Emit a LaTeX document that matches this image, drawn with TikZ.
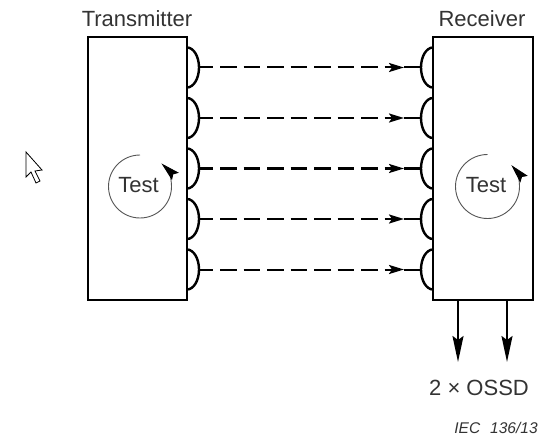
\documentclass[tikz,border=0pt]{standalone}
\usepackage{fontspec}
\setmainfont{Liberation Sans}
\usetikzlibrary{arrows.meta}
\definecolor{txtgray}{HTML}{333333}
\definecolor{circgray}{HTML}{555555}
\tikzset{
  box/.style={draw=black, line width=2pt, fill=white, inner sep=0pt, outer sep=0pt},
  lens/.style={draw=black, line width=2.4pt},
  beam/.style={draw=black, line width=2pt, dash pattern=on 16.5pt off 7pt, dash phase=2.5pt},
  beamtip/.style={draw=black, line width=2pt, -{Stealth[length=15pt,width=9pt,inset=3pt]}},
  beamend/.style={draw=black, line width=2pt},
  label/.style={text=txtgray, font=\fontsize{22}{24}\selectfont, inner sep=0pt, anchor=base},
  testarc/.style={draw=circgray, line width=0.9pt, -{Stealth[length=19pt,width=10pt,inset=3pt,black]}},
  ossd/.style={draw=black, line width=2pt, -{Stealth[length=26pt,width=11pt,inset=4pt]}},
  iec/.style={text=txtgray, font=\fontsize{15.5}{18}\selectfont\itshape, inner sep=0pt, anchor=base},
  cursor/.style={draw=black, line width=0.8pt, fill=white, line join=miter}
}
\begin{document}
\begin{tikzpicture}[x=1pt,y=1pt]
\useasboundingbox (0,0) rectangle (548,437);
% boxes
\node[box, minimum width=99pt, minimum height=263pt] (tx) at (137.5,268.5) {};
\node[box, minimum width=100pt, minimum height=263pt] (rx) at (483,268.5) {};
% labels
\node[label] (txl) at (137,410) {Transmitter};
\node[label] (rxl) at (482,410) {Receiver};
% lenses and beams
\foreach \i/\yc in {1/167.5, 2/218, 3/268.5, 4/319, 5/369.5}{
  \draw[lens] (187,\yc+20) arc[start angle=90, end angle=-90, x radius=12, y radius=20];
  \draw[lens] (433,\yc+20) arc[start angle=90, end angle=270, x radius=12, y radius=20];
  \coordinate (s\i) at (199,\yc);
  \coordinate (d\i) at (388,\yc);
  \coordinate (m\i) at (404,\yc);
  \coordinate (e\i) at (421,\yc);
  \draw[beam] (s\i) -- (d\i);
  \draw[beamtip] (d\i) -- (m\i);
  \draw[beamend] (m\i) -- (e\i);
}
% test cycles
\coordinate (tc) at (140,250.5);
\coordinate (rc) at (487.5,250.5);
\draw[testarc] (tc) ++(90:31.5) arc[start angle=90, end angle=407, radius=31.5];
\draw[testarc] (rc) ++(90:32) arc[start angle=90, end angle=402, radius=32];
\node[label] (tt) at (138.5,244) {Test};
\node[label] (rt) at (486,244) {Test};
% outputs
\coordinate (o1) at (458,75);
\coordinate (o2) at (507,75);
\draw[ossd] (o1 |- rx.south) -- (o1);
\draw[ossd] (o2 |- rx.south) -- (o2);
\node[label] (ossdl) at (479,42) {2 × OSSD};
\node[iec] (iecl) at (496,4) {IEC\hspace{10pt}136/13};
% mouse cursor
\draw[cursor] (26,285) -- (26,260) -- (31,265) -- (36,254) -- (40,256) -- (35,266) -- (42,267) -- cycle;
\end{tikzpicture}
\end{document}
